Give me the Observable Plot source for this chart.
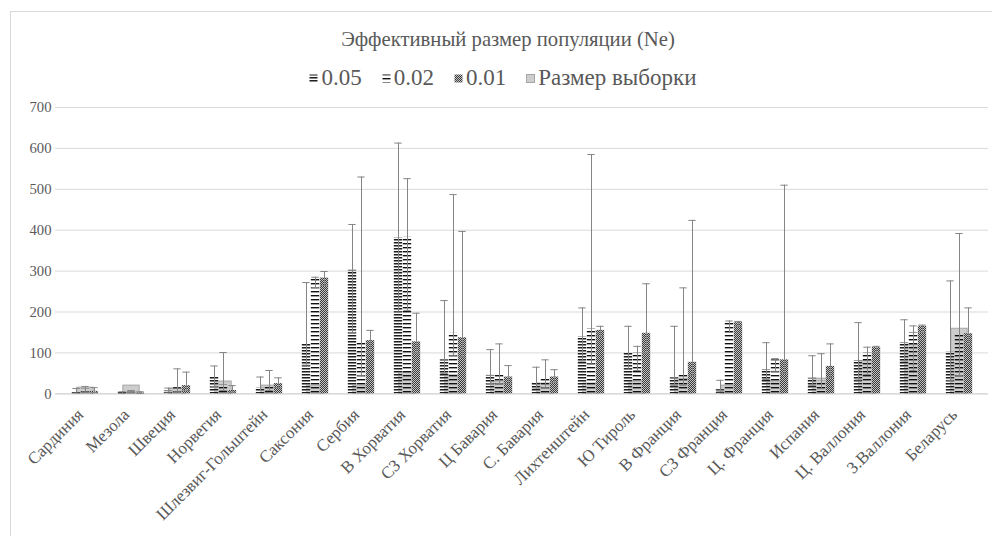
<!DOCTYPE html>
<html><head><meta charset="utf-8">
<script src="https://cdn.jsdelivr.net/npm/d3@7"></script>
<script src="https://cdn.jsdelivr.net/npm/@observablehq/plot@0.6"></script>
<style>
body{margin:0;background:#fff;width:992px;height:536px;overflow:hidden;position:relative;font-family:"Liberation Serif","Times New Roman",Times,serif;color:#595959}
#frame{position:absolute;left:10px;top:11px;width:1100px;height:700px;border:1px solid #d9d9d9;box-sizing:border-box}
#title{position:absolute;left:0;width:1016px;top:27px;text-align:center;font-size:20.7px;line-height:24px}
#legend{position:absolute;left:0;width:1006px;top:65px;display:flex;justify-content:center;gap:20px;font-size:23px;line-height:26px}
#legend span.item{white-space:nowrap;display:flex;align-items:center}
#legend svg{margin-right:3px;margin-top:1px}
#chart{position:absolute;left:0;top:95px}
</style></head>
<body>
<svg width="0" height="0" style="position:absolute">
<defs>
<pattern id="p05" patternUnits="userSpaceOnUse" width="4" height="3">
<rect x="0" y="0" width="4" height="1" fill="#1e1e1e"/><rect x="0" y="1" width="4" height="1" fill="#8a8a8a"/>
</pattern>
<pattern id="p02" patternUnits="userSpaceOnUse" width="4" height="4">
<rect x="0" y="0" width="4" height="1.4" fill="#111"/>
</pattern>
<pattern id="p01" patternUnits="userSpaceOnUse" width="2" height="2">
<rect x="0" y="0" width="2" height="2" fill="#c4c4c4"/><rect x="0" y="0" width="1" height="1" fill="#3a3a3a"/><rect x="1" y="1" width="1" height="1" fill="#3a3a3a"/>
</pattern>
</defs></svg>
<div id="frame"></div>
<div id="title">Эффективный размер популяции (Ne)</div>
<div id="legend"></div>
<div id="chart"></div>
<script>
const categories = ["Сардиния","Мезола","Швеция","Норвегия","Шлезвиг-Гольштейн","Саксония","Сербия","В Хорватия","СЗ Хорватия","Ц Бавария","С. Бавария","Лихтенштейн","Ю Тироль","В Франция","СЗ Франция","Ц. Франция","Испания","Ц. Валлония","З.Валлония","Беларусь"];
const seriesNames = ["0.05","0.02","0.01","Размер выборки"];
const yTicks = [0,100,200,300,400,500,600,700];

const v05  = [4, 3, 8, 40, 14, 122, 302, 381, 83, 45, 26, 139, 99, 39, 10, 59, 38, 81, 125, 102];
const hi05 = [13, 5, 14, 68, 41, 272, 414, 613, 228, 108, 65, 210, 165, 165, 33, 125, 93, 174, 181, 276];
const lo05 = [2, 1, 4, 18, 8, 70, 150, 200, 50, 25, 14, 80, 60, 20, 5, 35, 20, 34, 80, 33];

const v02  = [12, 4, 15, 22, 18, 281, 126, 383, 148, 49, 37, 159, 100, 49, 174, 83, 31, 100, 150, 147];
const hi02 = [18, 8, 61, 101, 57, 285, 530, 526, 487, 122, 83, 585, 116, 259, 178, 86, 98, 114, 166, 392];
const lo02 = [5, 2, 6, 8, 8, 260, 45, 204, 94, 25, 15, 73, 57, 20, 150, 55, 12, 47, 57, 45];

const v01  = [6, 2, 20, 8, 25, 283, 130, 127, 137, 41, 41, 155, 148, 77, 174, 83, 67, 113, 165, 147];
const hi01 = [15, 5, 53, 20, 39, 299, 155, 197, 397, 69, 59, 165, 269, 424, 177, 510, 122, 116, 168, 210];
const lo01 = [3, 1, 8, 4, 15, 265, 100, 100, 90, 25, 28, 140, 100, 45, 165, 50, 40, 100, 150, 120];

const sample = [15, 20, 12, 30, 20, 20, 20, 52, 45, 30, 25, 25, 30, 37, 20, 30, 37, 80, 120, 159];

const rows = categories.map((c, i) => ({cat: c,
  v05: v05[i], hi05: hi05[i], lo05: lo05[i],
  v02: v02[i], hi02: hi02[i], lo02: lo02[i],
  v01: v01[i], hi01: hi01[i], lo01: lo01[i],
  n: sample[i]}));

const W = 992, H = 441, mL = 55, mR = 4;
const bw = (W - mL - mR) / categories.length;
const half = bw / 2, barW = 9, capW = 8;
const errColor = "#858585";
const serif = "'Liberation Serif','Times New Roman',Times,serif";

const series = [
  {v: "v05", lo: "lo05", hi: "hi05", fill: "url(#p05)", off: -barW},
  {v: "v02", lo: "lo02", hi: "hi02", fill: "url(#p02)", off: 0},
  {v: "v01", lo: "lo01", hi: "hi01", fill: "url(#p01)", off: barW}
];

const marks = [
  Plot.gridY(yTicks, {stroke: "#d9d9d9", strokeOpacity: 1}),
  Plot.ruleY([0], {stroke: "#d9d9d9", strokeWidth: 1.5}),
  Plot.barY(rows, {x: "cat", y: "n", fill: "#cdcdcd", stroke: "#a6a6a6", strokeWidth: 1,
    insetLeft: half - 8.5, insetRight: half - 8.5})
];
for (const s of series) {
  marks.push(Plot.barY(rows, {x: "cat", y: s.v, fill: s.fill,
    insetLeft: half - barW / 2 + s.off, insetRight: half - barW / 2 - s.off}));
}
for (const s of series) {
  marks.push(Plot.ruleX(rows, {x: "cat", y1: s.lo, y2: s.hi, dx: s.off, stroke: errColor, strokeWidth: 1}));
  marks.push(Plot.tickY(rows, {x: "cat", y: s.hi, dx: s.off, stroke: errColor, strokeWidth: 1,
    insetLeft: half - capW / 2, insetRight: half - capW / 2}));
  marks.push(Plot.tickY(rows, {x: "cat", y: s.lo, dx: s.off, stroke: errColor, strokeWidth: 1,
    insetLeft: half - capW / 2, insetRight: half - capW / 2}));
}
marks.push(Plot.axisY(yTicks, {tickSize: 0, tickPadding: 4, fontSize: 14.7, fill: "#595959", fontFamily: serif}));
marks.push(Plot.axisX({tickSize: 0, tickRotate: -45, tickPadding: 6, dx: -5, dy: 12, fontSize: 17, fill: "#595959", fontFamily: serif}));

const chart = Plot.plot({
  width: W, height: H,
  marginLeft: mL, marginRight: mR, marginTop: 12, marginBottom: 142.7,
  x: {domain: categories, padding: 0, label: null},
  y: {domain: [0, 700], label: null},
  style: {fontFamily: serif, fontSize: "14.7px", color: "#595959", background: "transparent", overflow: "visible"},
  marks
});
document.getElementById("chart").appendChild(chart);

const swatch = (fill, stroke) => `<svg width="9" height="9"><rect x="0.5" y="0.5" width="8" height="8" fill="${fill}" stroke="${stroke || "none"}"/></svg>`;
const legendFills = [["url(#p05)"], ["url(#p02)"], ["url(#p01)"], ["#cdcdcd", "#a6a6a6"]];
document.getElementById("legend").innerHTML = seriesNames.map((n, i) =>
  `<span class="item">${swatch(legendFills[i][0], legendFills[i][1])}${n}</span>`).join("");
</script>
</body></html>
